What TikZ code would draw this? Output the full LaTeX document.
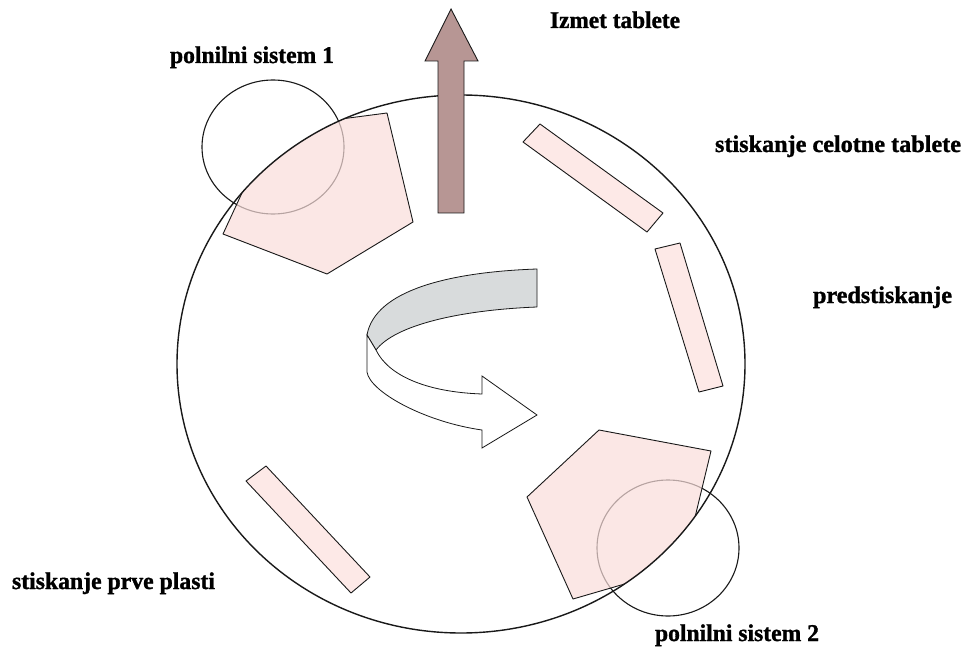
\documentclass[tikz,border=0pt]{standalone}
\usepackage{fontspec}
\setmainfont{Liberation Serif}
\newfontfamily\lblfont{Liberation Serif}[BoldFeatures={FakeBold=1.2}]
\usepackage{graphicx}
\definecolor{pinkfill}{RGB}{253,233,231}
\definecolor{pinkdeep}{RGB}{250,222,219}
\definecolor{brownfill}{RGB}{183,150,148}
\definecolor{grayband}{RGB}{216,219,220}
\definecolor{edgecol}{RGB}{25,25,25}
\newcommand{\lbl}[2]{\resizebox{#1pt}{\height}{\fontsize{24}{24}\lblfont\bfseries #2}}
\begin{document}
\begin{tikzpicture}[x=1pt,y=-1pt,
  pinkshape/.style={draw=edgecol,fill=pinkfill,line width=0.9pt,line join=round},
  pentfill/.style={fill=pinkdeep,fill opacity=0.7},
  pentedge/.style={draw=edgecol,line width=0.9pt,line join=round},
  ring/.style={draw=edgecol,line width=1.1pt},
  bigring/.style={draw=edgecol,line width=1.4pt},
  lab/.style={anchor=base west,inner sep=0pt,outer sep=0pt}]
\useasboundingbox (0,0) rectangle (966,655);
\fill[white] (0,0) rectangle (966,655);

% small circles (filling systems)
\draw[ring] (273,147) ellipse [x radius=71pt, y radius=67pt];
\draw[ring] (668,548) ellipse [x radius=71pt, y radius=68pt];

% pentagons clipped by the big circle
\begin{scope}
  \clip (461,364) ellipse [x radius=284pt, y radius=269pt];
  \fill[pentfill] (272,128) -- (387,113) -- (413,222) -- (327,274) -- (223,234) -- cycle;
  \draw[pentedge] (272,128) -- (387,113) -- (413,222) -- (327,274) -- (223,234) -- cycle;
  \fill[pentfill] (599,430) -- (711,451) -- (683,567) -- (573,599) -- (527,497) -- cycle;
  \draw[pentedge] (599,430) -- (711,451) -- (683,567) -- (573,599) -- (527,497) -- cycle;
\end{scope}

% big rotating table
\draw[bigring] (461,364) ellipse [x radius=284pt, y radius=269pt];

% pressing rollers (bars)
\draw[pinkshape] (540,124) -- (663,213) -- (647,232) -- (523,142) -- cycle;
\draw[pinkshape] (655,249) -- (680,243) -- (723,386) -- (699,392) -- cycle;
\draw[pinkshape] (246,481) -- (266,466) -- (370,577) -- (351,593) -- cycle;

% ejection arrow
\draw[fill=brownfill,draw=edgecol,line width=0.9pt,line join=miter]
  (438,213) -- (438,61) -- (425,61) -- (451,9) -- (478,61) -- (464,61) -- (464,213) -- cycle;

% curved rotation arrow
\draw[fill=grayband,draw=edgecol,line width=0.8pt,line join=round]
  (537,269) .. controls (450,272) and (375,290) .. (367,335)
  -- (376,350) .. controls (395,325) and (460,310) .. (537,307) -- cycle;
\draw[fill=white,draw=edgecol,line width=0.8pt,line join=miter]
  (367,335) -- (367,372) .. controls (370,392) and (425,422) .. (482,430)
  -- (482,448) -- (537,415) -- (482,376) -- (482,394)
  .. controls (425,392) and (388,375) .. (376,350) -- cycle;

% labels
\node[lab] (izmet) at (550,28) {\lbl{130}{Izmet tablete}};
\node[lab] (pol1) at (170,63) {\lbl{164}{polnilni sistem 1}};
\node[lab] (celotne) at (715,152) {\lbl{246}{stiskanje celotne tablete}};
\node[lab] (pred) at (813,303) {\lbl{139}{predstiskanje}};
\node[lab] (prve) at (12,589) {\lbl{203}{stiskanje prve plasti}};
\node[lab] (pol2) at (655,641) {\lbl{164}{polnilni sistem 2}};
\end{tikzpicture}
\end{document}
